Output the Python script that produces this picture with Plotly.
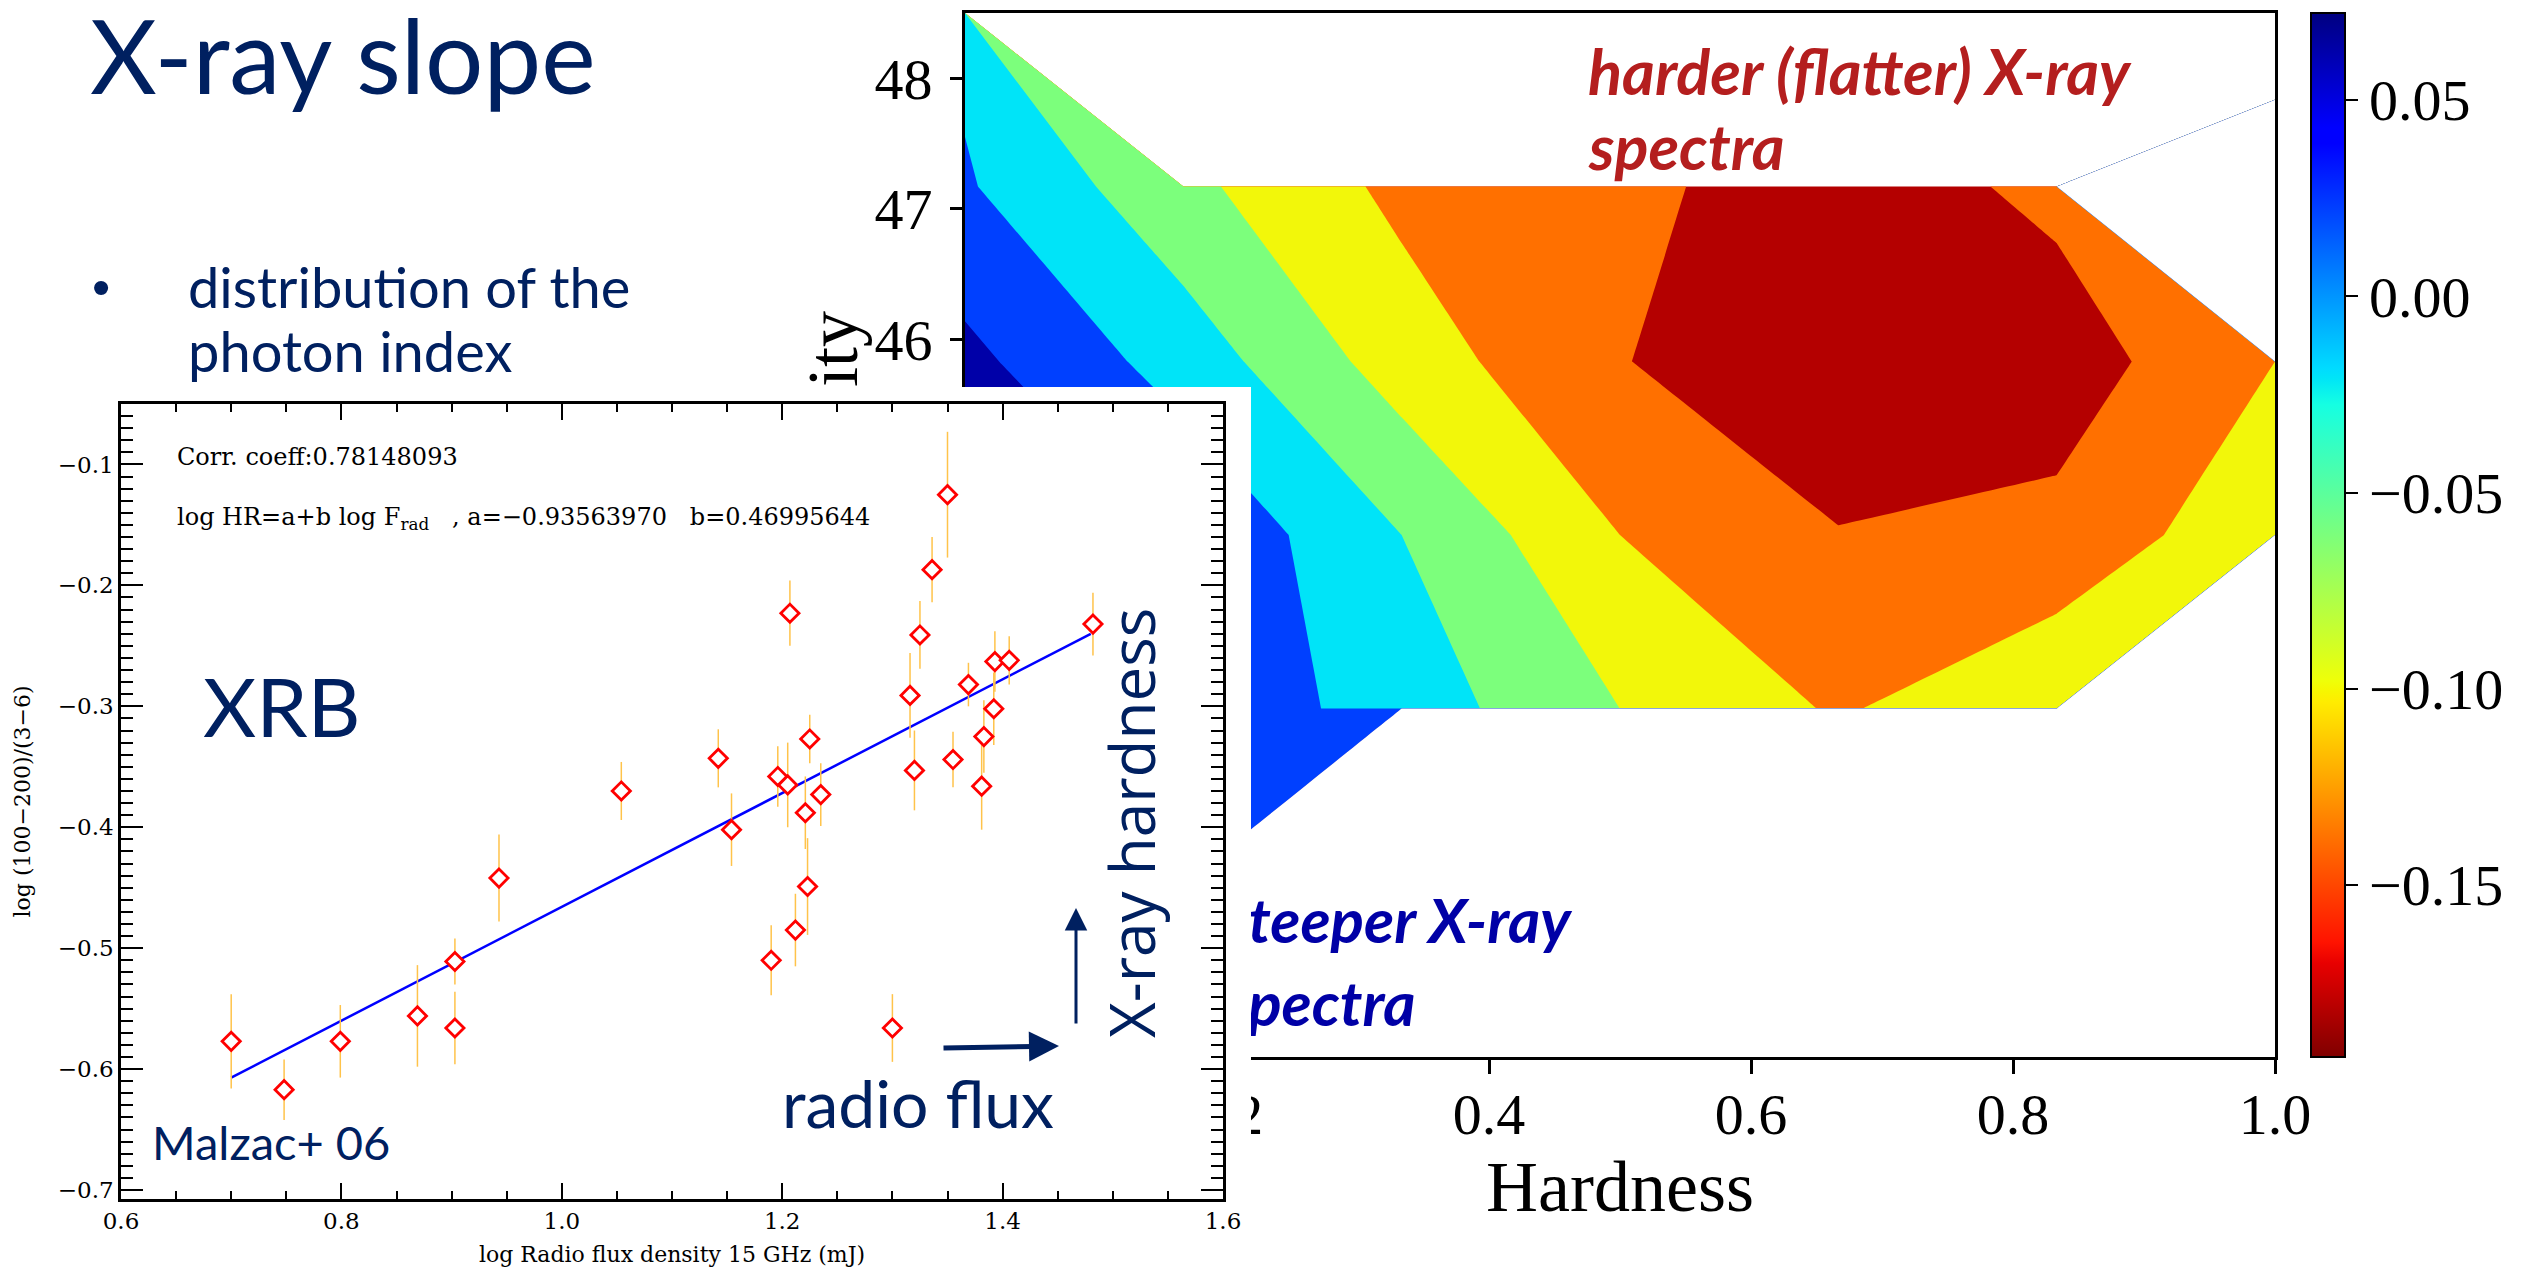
import numpy as np
import plotly.graph_objects as go

W, H = 2524, 1274
N = None

# ---------------- main panel: contour of X-ray slope vs hardness / luminosity
hardness = [0.0, 1/6, 1/3, 0.5, 2/3, 5/6, 1.0]
luminosity = [40.5, 41.83, 43.17, 44.5, 45.83, 47.17, 48.5]
slope_z = [
    [0.070, N, N, N, N, N, N],
    [0.070, 0.035, N, N, N, N, N],
    [0.065, 0.030, -0.0175, -0.080, -0.1244, -0.085, N],
    [0.070, 0.0373, -0.040, -0.120, -0.158, -0.149, -0.090],
    [0.0506, -0.0174, -0.099, -0.158, -0.194, -0.181, -0.120],
    [0.0044, -0.0696, -0.130, -0.150, -0.183, -0.150, N],
    [-0.011, N, N, N, N, N, N],
]
level_start, level_end, level_size = -0.20, 0.08, 0.04
band_colors = ['white', '#b40000', '#ff7000', '#f2f70a', '#7cff7c', '#00e4f8', '#0040ff',
               '#0000a8', 'white']
cb_min, cb_max = -0.1938, 0.0722
cb_ticks = [-0.15, -0.10, -0.05, 0.00, 0.05]
main_xticks = [0.2, 0.4, 0.6, 0.8, 1.0]
main_yticks = [41, 42, 43, 44, 45, 46, 47, 48]

# ---------------- inset: XRB hardness vs radio flux (Malzac+ 06)
radio = [1.350, 1.336, 1.207, 1.325, 1.482, 1.393, 1.406, 1.369, 1.316, 1.392, 1.225,
         1.383, 1.142, 1.355, 1.320, 1.196, 1.205, 1.054, 1.381, 1.235, 1.221, 1.154,
         0.943, 1.223, 1.212, 1.190, 0.903, 0.869, 0.903, 1.300, 0.700, 0.799, 0.748]
hard = [-0.125, -0.187, -0.223, -0.241, -0.232, -0.263, -0.262, -0.282, -0.291, -0.302, -0.327,
        -0.325, -0.343, -0.344, -0.353, -0.358, -0.365, -0.370, -0.366, -0.373, -0.388, -0.402,
        -0.442, -0.449, -0.485, -0.510, -0.511, -0.556, -0.566, -0.566, -0.577, -0.577, -0.617]
hard_err = [0.052, 0.027, 0.027, 0.028, 0.026, 0.025, 0.020, 0.018, 0.035, 0.030, 0.020,
            0.030, 0.024, 0.023, 0.033, 0.025, 0.035, 0.024, 0.036, 0.026, 0.030, 0.030,
            0.036, 0.040, 0.030, 0.029, 0.019, 0.042, 0.030, 0.028, 0.039, 0.030, 0.025]
fit_x = [0.70, 1.48]
fit_y = [-0.607, -0.240]

NAVY = 'rgb(0,32,96)'


def px(x):
    return x / W


def py(y):
    return 1 - y / H


# matplotlib "jet" colormap as plotly colorscale
jet_seg = {
    'r': [(0, 0), (0.35, 0), (0.66, 1), (0.89, 1), (1, 0.5)],
    'g': [(0, 0), (0.125, 0), (0.375, 1), (0.64, 1), (0.91, 0), (1, 0)],
    'b': [(0, 0.5), (0.11, 1), (0.34, 1), (0.65, 0), (1, 0)],
}
stops = sorted({p for seg in jet_seg.values() for p, _ in seg})
jet = []
for s in stops:
    rgb = [np.interp(s, [p for p, _ in jet_seg[c]], [v for _, v in jet_seg[c]]) for c in 'rgb']
    jet.append([s, 'rgb(%d,%d,%d)' % tuple(int(round(255 * v)) for v in rgb)])

# stepwise colorscale for the filled bands (outer bands = no data -> white)
nb = len(band_colors)
band_scale = []
for k, c in enumerate(band_colors):
    lo = max(0.0, (k - 0.5) / (nb - 1))
    hi = min(1.0, (k + 0.5) / (nb - 1))
    band_scale.append([lo, c])
    band_scale.append([hi, c])

# Cells without data get a far out-of-range value (above or below all levels) so they stay
# white; neighbouring gaps share a side, and the side is flipped where a saddle would appear.
levels = [level_start + k * level_size
          for k in range(int(round((level_end - level_start) / level_size)) + 1)]
BIG = 1.0e4
ny, nx = len(luminosity), len(hardness)
side = {}


def val(j, i, cand):
    v = slope_z[j][i]
    return v if v is not None else BIG * side.get((j, i), cand)


def has_saddle(j, i, cand):
    for j0 in (j - 1, j):
        for i0 in (i - 1, i):
            if j0 < 0 or i0 < 0 or j0 + 1 >= ny or i0 + 1 >= nx:
                continue
            a = val(j0 + 1, i0, cand)
            b = val(j0 + 1, i0 + 1, cand)
            c = val(j0, i0 + 1, cand)
            d = val(j0, i0, cand)
            for L in levels:
                A, B, C, D = a > L, b > L, c > L, d > L
                if A == C and B == D and A != B:
                    return True
    return False


for j in range(ny - 1, -1, -1):
    for i in range(nx):
        if slope_z[j][i] is not None:
            continue
        pref = 1
        for (jj, ii) in ((j, i - 1), (j + 1, i), (j, i + 1), (j - 1, i)):
            if (jj, ii) in side:
                pref = side[(jj, ii)]
                break
        side[(j, i)] = pref if not has_saddle(j, i, pref) else -pref

z_plot = [[val(j, i, 1) for i in range(nx)] for j in range(ny)]

fig = go.Figure()

fig.add_trace(go.Contour(
    x=hardness, y=luminosity, z=z_plot,
    autocontour=False,
    contours=dict(start=level_start, end=level_end, size=level_size,
                  coloring='fill', showlines=False),
    line=dict(width=0, smoothing=0), colorscale=band_scale,
    zmin=level_start - level_size / 2, zmax=level_end + level_size / 2,
    showscale=False, hoverinfo='skip', xaxis='x', yaxis='y'))

# "steeper X-ray spectra" label lives inside the main panel (partly hidden by the inset)
fig.add_trace(go.Scatter(
    x=[0.197, 0.197], y=[41.49, 40.86], mode='text',
    text=['steeper X-ray', 'spectra'], textposition='middle right',
    textfont=dict(family='Lato', size=62, color='#0000a6', weight='bold', style='italic'),
    hoverinfo='skip', showlegend=False, xaxis='x', yaxis='y'))

# continuous colourbar
fig.add_trace(go.Scatter(
    x=[None], y=[None], mode='markers', hoverinfo='skip', showlegend=False,
    marker=dict(color=[0], colorscale=jet, reversescale=True, cmin=cb_min, cmax=cb_max,
                showscale=True,
                colorbar=dict(x=px(2311), xanchor='left', y=py(13), yanchor='top',
                              len=(1057 - 13) / H, lenmode='fraction', thickness=34,
                              xpad=0, ypad=0, outlinewidth=2, outlinecolor='black',
                              ticks='outside', ticklen=12, tickwidth=2, tickcolor='black',
                              tickvals=cb_ticks, tickformat='.2f',
                              tickfont=dict(family='Liberation Serif', size=58, color='black'))),
    xaxis='x', yaxis='y'))

# white background of the pasted inset
fig.add_trace(go.Scatter(x=[None], y=[None], mode='markers', hoverinfo='skip',
                         showlegend=False, xaxis='x2', yaxis='y2'))

# inset data
fig.add_trace(go.Scatter(x=fit_x, y=fit_y, mode='lines', line=dict(color='#0000ff', width=2.5),
                         hoverinfo='skip', showlegend=False, xaxis='x3', yaxis='y3'))
fig.add_trace(go.Scatter(
    x=radio, y=hard, mode='markers',
    error_y=dict(type='data', array=hard_err, color='#ffc34a', thickness=1.5, width=0),
    marker=dict(symbol='diamond', size=14, color='white', line=dict(color='red', width=2.8)),
    hoverinfo='skip', showlegend=False, xaxis='x3', yaxis='y3'))

serif_main = dict(family='Liberation Serif', size=58, color='black')
serif_in = dict(family='DejaVu Serif', size=22, color='black')
serif_tick_in = dict(family='DejaVu Serif', size=23, color='black')

fig.update_layout(
    width=W, height=H, margin=dict(l=0, r=0, t=0, b=0, pad=0, autoexpand=False),
    paper_bgcolor='white', plot_bgcolor='white', showlegend=False,
    xaxis=dict(domain=[px(965), px(2275)], range=[0, 1], tickvals=main_xticks, tickformat='.1f',
               ticks='outside', ticklen=14, tickwidth=2.5, tickcolor='black',
               showline=True, linewidth=3, linecolor='black', mirror=True,
               showgrid=False, zeroline=False, tickfont=serif_main, ticklabelstandoff=-10,
               title=dict(text='Hardness', font=dict(family='Liberation Serif', size=72, color='black'),
                          standoff=2),
               anchor='y'),
    yaxis=dict(domain=[py(1057), py(13)], range=[40.5, 48.5], tickvals=main_yticks,
               ticks='outside', ticklen=12, tickwidth=2.5, tickcolor='black',
               showline=True, linewidth=3, linecolor='black', mirror=True,
               showgrid=False, zeroline=False, tickfont=serif_main, ticklabelstandoff=6,
               anchor='x'),
    xaxis2=dict(domain=[0, px(1251)], range=[0, 1], showline=False, showgrid=False,
                zeroline=False, showticklabels=False, ticks='', anchor='y2'),
    yaxis2=dict(domain=[0, py(387)], range=[0, 1], showline=False, showgrid=False,
                zeroline=False, showticklabels=False, ticks='', anchor='x2'),
    xaxis3=dict(domain=[px(121), px(1223)], range=[0.6, 1.6], tick0=0.6, dtick=0.2,
                tickformat='.1f', ticks='inside', ticklen=16, tickwidth=2, tickcolor='black',
                minor=dict(tick0=0.6, dtick=0.05, ticks='inside', ticklen=8, tickwidth=2,
                           tickcolor='black', showgrid=False),
                showline=True, linewidth=2.5, linecolor='black', mirror='allticks',
                showgrid=False, zeroline=False, tickfont=serif_tick_in,
                title=dict(text='log Radio flux density 15 GHz (mJ)', font=serif_in, standoff=14),
                anchor='y3'),
    yaxis3=dict(domain=[py(1199), py(404)], range=[-0.7074, -0.05], tick0=-0.7, dtick=0.1,
                tickformat='.1f', ticks='inside', ticklen=22, tickwidth=2, tickcolor='black',
                minor=dict(tick0=-0.7, dtick=0.01, ticks='inside', ticklen=12, tickwidth=2,
                           tickcolor='black', showgrid=False),
                showline=True, linewidth=2.5, linecolor='black', mirror='allticks',
                showgrid=False, zeroline=False, tickfont=serif_tick_in,
                title=dict(text='log (100\u2212200)/(3\u22126)', font=serif_in, standoff=22),
                anchor='x3'),
)

ann = []


def text(t, x, y, size, color=NAVY, family='Lato', xanchor='left', yanchor='middle', **kw):
    ann.append(dict(text=t, x=px(x), y=py(y), xref='paper', yref='paper', showarrow=False,
                    xanchor=xanchor, yanchor=yanchor,
                    font=dict(family=family, size=size, color=color, **kw.pop('font', {})), **kw))


RED = '#b41e1e'
text('X-ray slope', 88, 54, 103)
text('\u2022', 90, 287, 52, family='Liberation Sans')
text('distribution of the', 186, 286, 56)
text('photon index', 186, 351, 56)
text('XRB', 201, 705, 82)
text('Malzac+ 06', 150, 1142, 47)
text('radio flux', 780, 1102, 66)
text('X-ray hardness', 1131, 823, 62, family='Open Sans', xanchor='center', textangle=-90)
text('harder (flatter) X-ray', 1586, 70, 63, color=RED, font=dict(weight='bold', style='italic'))
text('spectra', 1586, 146, 63, color=RED, font=dict(weight='bold', style='italic'))
text('ity', 833, 349, 72, color='black', family='Liberation Serif', xanchor='center', textangle=-90)
text('Corr. coeff:0.78148093', 175, 457, 24, color='black', family='DejaVu Serif')
text('log HR=a+b log F<sub>rad</sub>\u00a0\u00a0 , a=\u22120.93563970\u00a0\u00a0 b=0.46995644',
     175, 518, 24, color='black', family='DejaVu Serif')

# arrows
ann.append(dict(x=px(1059), y=py(1046), xref='paper', yref='paper', ax=-117, ay=2,
                axref='pixel', ayref='pixel', showarrow=True, arrowhead=2, arrowsize=1.2,
                arrowwidth=5, arrowcolor=NAVY, text=''))
ann.append(dict(x=px(1076), y=py(908), xref='paper', yref='paper', ax=0, ay=117,
                axref='pixel', ayref='pixel', showarrow=True, arrowhead=2, arrowsize=1.5,
                arrowwidth=3, arrowcolor=NAVY, text=''))

fig.update_layout(annotations=ann)
fig.write_html('out.html')
